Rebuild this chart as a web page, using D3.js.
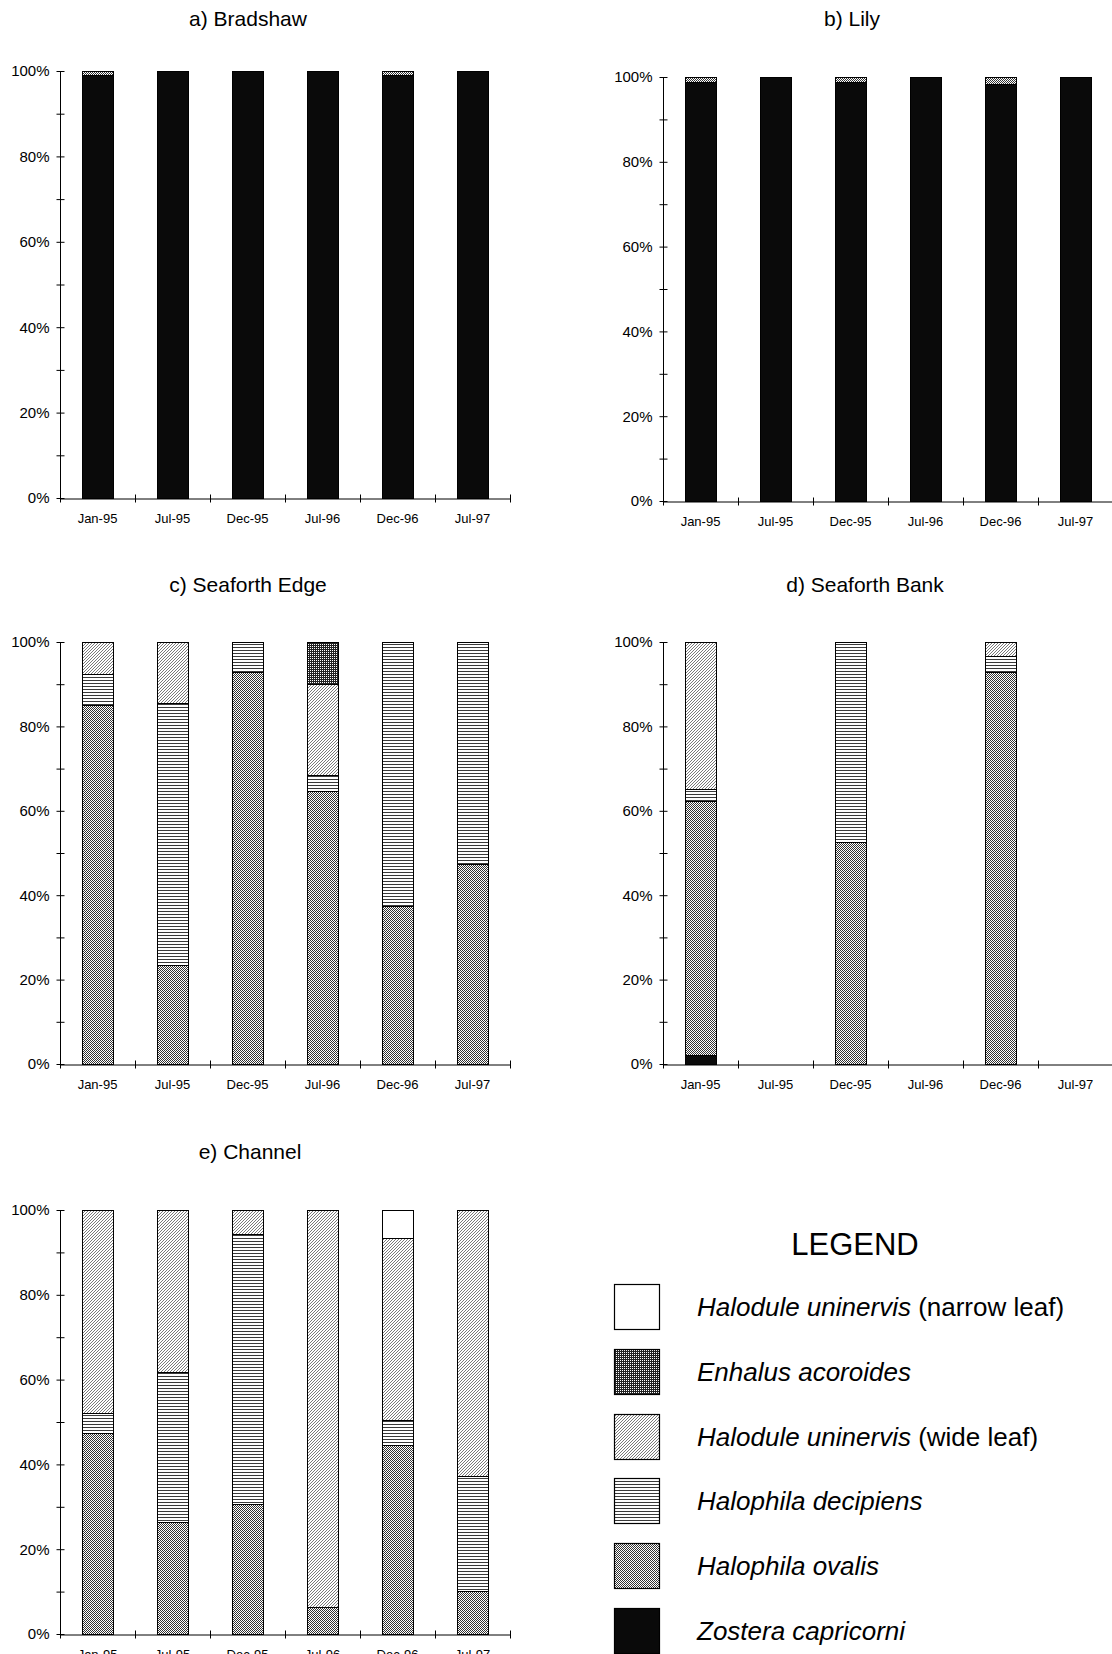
<!DOCTYPE html>
<html>
<head>
<meta charset="utf-8">
<script src="https://cdn.jsdelivr.net/npm/d3@7"></script>
<style>
  html, body { margin: 0; padding: 0; background: #fff; }
  svg { display: block; font-family: "Liberation Sans", Arial, sans-serif; }
</style>
</head>
<body>
<svg id="chart" width="1112" height="1654"></svg>
<script>
// Sampling dates (x categories)
const categories = ["Jan-95", "Jul-95", "Dec-95", "Jul-96", "Dec-96", "Jul-97"];

// Species, in stacking order from the bottom of each bar upward
const speciesKeys = ["zostera", "ovalis", "decipiens", "wideLeaf", "enhalus", "narrowLeaf"];

// Legend labels (top of the list = top of the stack)
const legendKeys    = ["narrowLeaf", "enhalus", "wideLeaf", "decipiens", "ovalis", "zostera"];
const legendItalic  = ["Halodule uninervis", "Enhalus acoroides", "Halodule uninervis", "Halophila decipiens", "Halophila ovalis", "Zostera capricorni"];
const legendPlain   = [" (narrow leaf)", "", " (wide leaf)", "", "", ""];

// Y-axis ticks (percent composition)
const yTicks = [0, 10, 20, 30, 40, 50, 60, 70, 80, 90, 100];
const yLabelTicks = [0, 20, 40, 60, 80, 100];

// Percent composition per site; rows follow speciesKeys, null = not sampled
const bradshaw = [
  [99, 100, 100, 100, 99, 100],   // Zostera capricorni
  [1, 0, 0, 0, 1, 0],             // Halophila ovalis
  [0, 0, 0, 0, 0, 0],             // Halophila decipiens
  [0, 0, 0, 0, 0, 0],             // Halodule uninervis (wide leaf)
  [0, 0, 0, 0, 0, 0],             // Enhalus acoroides
  [0, 0, 0, 0, 0, 0]              // Halodule uninervis (narrow leaf)
];

const lily = [
  [98.8, 100, 98.8, 100, 98.4, 100],
  [1.2, 0, 1.2, 0, 1.6, 0],
  [0, 0, 0, 0, 0, 0],
  [0, 0, 0, 0, 0, 0],
  [0, 0, 0, 0, 0, 0],
  [0, 0, 0, 0, 0, 0]
];

const seaforthEdge = [
  [0, 0, 0, 0, 0, 0],
  [85.0, 23.4, 93.0, 64.6, 37.4, 47.3],
  [7.3, 62.1, 7.0, 3.9, 62.6, 52.7],
  [7.7, 14.5, 0, 21.5, 0, 0],
  [0, 0, 0, 10.0, 0, 0],
  [0, 0, 0, 0, 0, 0]
];

const seaforthBank = [
  [2.1, null, 0, null, 0, null],
  [60.2, null, 52.6, null, 92.8, null],
  [2.8, null, 47.4, null, 4.0, null],
  [34.9, null, 0, null, 3.2, null],
  [0, null, 0, null, 0, null],
  [0, null, 0, null, 0, null]
];

const channel = [
  [0, 0, 0, 0, 0, 0],
  [47.5, 26.4, 30.6, 6.3, 44.5, 10.1],
  [4.7, 35.5, 63.7, 0, 6.0, 27.2],
  [47.8, 38.1, 5.7, 93.7, 43.0, 62.7],
  [0, 0, 0, 0, 0, 0],
  [0, 0, 0, 0, 6.5, 0]
];

// Panel titles
const panelTitles = ["a) Bradshaw", "b) Lily", "c) Seaforth Edge", "d) Seaforth Bank", "e) Channel"];
const panelData = [bradshaw, lily, seaforthEdge, seaforthBank, channel];

// ---------- layout ----------
const svg = d3.select("#chart");
svg.append("rect").attr("width", 1112).attr("height", 1654).attr("fill", "#fff");

const panelLayout = [
  { x0: 60,  top: 71,  bottom: 498,  titleX: 248, titleY: 26 },
  { x0: 663, top: 77,  bottom: 501,  titleX: 852, titleY: 26 },
  { x0: 60,  top: 642, bottom: 1064, titleX: 248, titleY: 592 },
  { x0: 663, top: 642, bottom: 1064, titleX: 865, titleY: 592 },
  { x0: 60,  top: 1210, bottom: 1634, titleX: 250, titleY: 1159 }
];
const axisWidth = 450;
const barWidth = 31;

// ---------- fill patterns ----------
const defs = svg.append("defs");

function pixelPattern(id, size, bg, fg, pixels) {
  const p = defs.append("pattern")
    .attr("id", id)
    .attr("patternUnits", "userSpaceOnUse")
    .attr("width", size).attr("height", size);
  p.append("rect").attr("width", size).attr("height", size).attr("fill", bg);
  pixels.forEach(([px, py]) => {
    p.append("rect").attr("x", px).attr("y", py).attr("width", 1).attr("height", 1).attr("fill", fg);
  });
}
// fine checker – Halophila ovalis
pixelPattern("pat-ovalis", 2, "#fff", "#333", [[0, 0], [1, 1]]);
// dark checker – Enhalus acoroides
pixelPattern("pat-enhalus", 2, "#222", "#fff", [[0, 0]]);
// diagonal hatch – Halodule uninervis (wide leaf)
pixelPattern("pat-wide", 3, "#fff", "#7a7a7a", [[0, 2], [1, 1], [2, 0]]);
// horizontal lines – Halophila decipiens
(function () {
  const p = defs.append("pattern")
    .attr("id", "pat-decipiens")
    .attr("patternUnits", "userSpaceOnUse")
    .attr("width", 4).attr("height", 3);
  p.append("rect").attr("width", 4).attr("height", 3).attr("fill", "#fff");
  p.append("rect").attr("y", 2).attr("width", 4).attr("height", 1).attr("fill", "#3a3a3a");
})();

const fills = {
  zostera: "#0a0a0a",
  ovalis: "url(#pat-ovalis)",
  decipiens: "url(#pat-decipiens)",
  wideLeaf: "url(#pat-wide)",
  enhalus: "url(#pat-enhalus)",
  narrowLeaf: "#fff"
};

// ---------- panels ----------
panelData.forEach((rows, pi) => {
  const L = panelLayout[pi];
  const g = svg.append("g");

  const y = d3.scaleLinear().domain([0, 100]).range([L.bottom, L.top]);
  const xBand = d3.scaleBand().domain(categories).range([L.x0, L.x0 + axisWidth]).padding(0);
  const xTick = d3.scaleLinear().domain([0, categories.length]).range([L.x0, L.x0 + axisWidth]);

  // title
  g.append("text")
    .attr("x", L.titleX).attr("y", L.titleY)
    .attr("text-anchor", "middle")
    .attr("font-size", 21)
    .attr("fill", "#000")
    .text(panelTitles[pi]);

  // stacked series
  const table = categories.map((c, ci) => {
    const row = { category: c };
    speciesKeys.forEach((k, si) => { row[k] = rows[si][ci] == null ? 0 : rows[si][ci]; });
    return row;
  });
  const stacked = d3.stack().keys(speciesKeys)(table);

  stacked.forEach(layer => {
    g.append("g")
      .selectAll("rect")
      .data(layer.filter(d => d[1] - d[0] > 0))
      .join("rect")
      .attr("x", d => Math.round(xBand(d.data.category) + xBand.bandwidth() / 2 - barWidth / 2) + 0.5)
      .attr("y", d => Math.round(y(d[1])) + 0.5)
      .attr("width", barWidth)
      .attr("height", d => Math.max(0, Math.round(y(d[0])) - Math.round(y(d[1]))))
      .attr("fill", fills[layer.key])
      .attr("stroke", "#000")
      .attr("stroke-width", 1);
  });

  // y axis
  const yAxis = g.append("g")
    .attr("transform", `translate(${L.x0 + 0.5},0)`)
    .call(d3.axisLeft(y).tickValues(yTicks).tickSizeOuter(0).tickSizeInner(4)
      .tickFormat(v => yLabelTicks.includes(v) ? v + "%" : ""));
  yAxis.select(".domain").attr("stroke", "#000").attr("d", `M0,${L.top}V${L.bottom}`);
  yAxis.selectAll(".tick line").attr("x1", -4).attr("x2", 4).attr("stroke", "#000");
  yAxis.selectAll(".tick text")
    .attr("x", -11)
    .attr("font-size", 15)
    .attr("font-family", "Liberation Sans, Arial, sans-serif")
    .attr("fill", "#000");

  // x axis: ticks at category boundaries, labels centred in each band
  const xAxis = g.append("g")
    .attr("transform", `translate(0,${L.bottom + 0.5})`)
    .call(d3.axisBottom(xTick).tickValues(d3.range(categories.length + 1))
      .tickFormat("").tickSizeOuter(0).tickSizeInner(4));
  xAxis.select(".domain").attr("stroke", "#000");
  xAxis.selectAll(".tick line").attr("y1", -4).attr("y2", 4).attr("stroke", "#000");

  g.append("g")
    .selectAll("text")
    .data(categories)
    .join("text")
    .attr("x", d => xBand(d) + xBand.bandwidth() / 2)
    .attr("y", L.bottom + 25)
    .attr("text-anchor", "middle")
    .attr("font-size", 13)
    .attr("fill", "#000")
    .text(d => d);
});

// ---------- legend ----------
const legend = svg.append("g");
legend.append("text")
  .attr("x", 855).attr("y", 1255)
  .attr("text-anchor", "middle")
  .attr("font-size", 31)
  .attr("fill", "#000")
  .text("LEGEND");

const legendRow = d3.scaleLinear().domain([0, legendKeys.length - 1]).range([1284, 1608]);

legendKeys.forEach((k, i) => {
  const top = Math.round(legendRow(i));
  legend.append("rect")
    .attr("x", 614.5).attr("y", top + 0.5)
    .attr("width", 45).attr("height", 45)
    .attr("fill", fills[k])
    .attr("stroke", "#000")
    .attr("stroke-width", 1.2);
  const t = legend.append("text")
    .attr("x", 697).attr("y", top + 32)
    .attr("font-size", 26)
    .attr("fill", "#000");
  t.append("tspan").attr("font-style", "italic").text(legendItalic[i]);
  if (legendPlain[i]) t.append("tspan").text(legendPlain[i]);
});
</script>
</body>
</html>
